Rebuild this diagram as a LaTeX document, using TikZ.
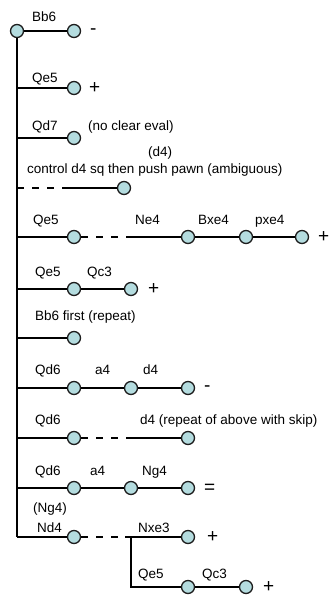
\documentclass[tikz,border=0pt]{standalone}
\usepackage{fontspec}
\setmainfont{Liberation Sans}
\definecolor{nodefill}{HTML}{B4DCDF}
\definecolor{nodeline}{HTML}{1E1E1E}
\begin{document}
\begin{tikzpicture}[x=1pt,y=-1pt,
  mv/.style={circle, draw=nodeline, fill=nodefill, line width=1.3pt, minimum size=13pt, inner sep=0pt},
  lbl/.style={font=\fontsize{13.5}{15}\selectfont, inner sep=0pt, anchor=base west},
  sym/.style={font=\fontsize{19}{21}\selectfont, inner sep=0pt, anchor=base west},
  edge/.style={line width=1.1pt, draw=black},
  dsh/.style={edge, dash pattern=on 7pt off 8pt}]
\useasboundingbox (0,0) rectangle (331,597);

% trunk coordinates
\coordinate (t2) at (17,88);
\coordinate (t3) at (17,138);
\coordinate (t4) at (17,188);
\coordinate (t5) at (17,237);
\coordinate (t6) at (17,289);
\coordinate (t7) at (17,338);
\coordinate (t8) at (17,388);
\coordinate (t9) at (17,438);
\coordinate (t10) at (17,488);
\coordinate (t11) at (17,537);
\coordinate (m4) at (65,188);
\coordinate (m5) at (128,237);
\coordinate (m9) at (128,438);
\coordinate (m11) at (125,537);
\coordinate (j) at (131,537);

% move nodes
\node[mv] (root) at (17,31) {};
\node[mv] (n1) at (74,31) {};
\node[mv] (n2) at (74,88) {};
\node[mv] (n3) at (74,138) {};
\node[mv] (n4) at (124,188) {};
\node[mv] (n5a) at (74,237) {};
\node[mv] (n5b) at (188,237) {};
\node[mv] (n5c) at (246,237) {};
\node[mv] (n5d) at (302,237) {};
\node[mv] (n6a) at (74,289) {};
\node[mv] (n6b) at (131,289) {};
\node[mv] (n7) at (74,338) {};
\node[mv] (n8a) at (74,388) {};
\node[mv] (n8b) at (131,388) {};
\node[mv] (n8c) at (188,388) {};
\node[mv] (n9a) at (74,438) {};
\node[mv] (n9b) at (188,438) {};
\node[mv] (n10a) at (74,488) {};
\node[mv] (n10b) at (131,488) {};
\node[mv] (n10c) at (188,488) {};
\node[mv] (n11a) at (74,537) {};
\node[mv] (n11b) at (188,537) {};
\node[mv] (s1) at (188,587) {};
\node[mv] (s2) at (246,587) {};

% connectors
\draw[edge] (root) -- (t11);
\draw[edge] (root) -- (n1);
\draw[edge] (t2) -- (n2);
\draw[edge] (t3) -- (n3);
\draw[dsh] (t4) -- (m4);
\draw[edge] (m4) -- (n4);
\draw[edge] (t5) -- (n5a);
\draw[dsh] (n5a) -- (m5);
\draw[edge] (m5) -- (n5b) -- (n5c) -- (n5d);
\draw[edge] (t6) -- (n6a) -- (n6b);
\draw[edge] (t7) -- (n7);
\draw[edge] (t8) -- (n8a) -- (n8b) -- (n8c);
\draw[edge] (t9) -- (n9a);
\draw[dsh] (n9a) -- (m9);
\draw[edge] (m9) -- (n9b);
\draw[edge] (t10) -- (n10a) -- (n10b) -- (n10c);
\draw[edge] (t11) -- (n11a);
\draw[dsh] (n11a) -- (m11);
\draw[edge] (m11) -- (n11b);
\draw[edge] (j) |- (s1);
\draw[edge] (s1) -- (s2);

% labels
\node[lbl] (l1) at (32,21) {Bb6};
\node[lbl] (l2) at (32,82) {Qe5};
\node[lbl] (l3) at (32,130) {Qd7};
\node[lbl] (l3b) at (88,130) {(no clear eval)};
\node[lbl] (l4a) at (148,156) {(d4)};
\node[lbl] (l4b) at (27,173) {control d4 sq then push pawn (ambiguous)};
\node[lbl] (l5a) at (33,224) {Qe5};
\node[lbl] (l5b) at (135,224) {Ne4};
\node[lbl] (l5c) at (198,224) {Bxe4};
\node[lbl] (l5d) at (255,224) {pxe4};
\node[lbl] (l6a) at (35,276) {Qe5};
\node[lbl] (l6b) at (87,276) {Qc3};
\node[lbl] (l7) at (35,320) {Bb6 first (repeat)};
\node[lbl] (l8a) at (35,374) {Qd6};
\node[lbl] (l8b) at (95,374) {a4};
\node[lbl] (l8c) at (143,374) {d4};
\node[lbl] (l9a) at (35,424) {Qd6};
\node[lbl] (l9b) at (140,424) {d4 (repeat of above with skip)};
\node[lbl] (l10a) at (35,475) {Qd6};
\node[lbl] (l10b) at (90,475) {a4};
\node[lbl] (l10c) at (142,475) {Ng4};
\node[lbl] (l11a) at (33,512) {(Ng4)};
\node[lbl] (l11b) at (37,532) {Nd4};
\node[lbl] (l11c) at (138,532) {Nxe3};
\node[lbl] (ls1) at (138,578) {Qe5};
\node[lbl] (ls2) at (202,578) {Qc3};

% evaluation symbols
\node[sym] (e1) at (90,34.2) {-};
\node[sym] (e2) at (89,93.5) {+};
\node[sym] (e5) at (318,242.5) {+};
\node[sym] (e6) at (148,294) {+};
\node[sym] (e8) at (204,391.7) {-};
\node[sym] (e10) at (204,493) {=};
\node[sym] (e11) at (207,542.5) {+};
\node[sym] (es) at (263,592.5) {+};
\end{tikzpicture}
\end{document}
